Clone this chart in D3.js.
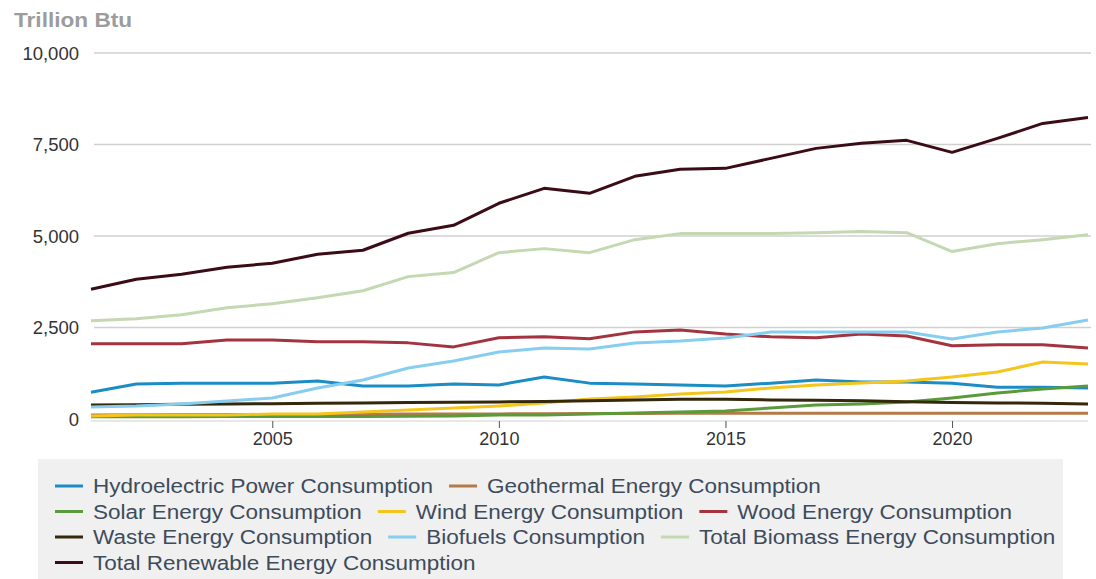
<!DOCTYPE html>
<html>
<head>
<meta charset="utf-8">
<script src="https://cdn.jsdelivr.net/npm/d3@7"></script>
<style>
  body { margin: 0; background: #fff; }
  svg text { font-family: "Liberation Sans", Arial, Helvetica, sans-serif; }
</style>
</head>
<body>
<svg id="chart" width="1096" height="579"></svg>
<script>
// Renewable energy consumption by source, trillion Btu
const years = [2001, 2002, 2003, 2004, 2005, 2006, 2007, 2008, 2009, 2010, 2011, 2012,
               2013, 2014, 2015, 2016, 2017, 2018, 2019, 2020, 2021, 2022, 2023];

const hydroelectric = [730, 955, 980, 980, 980, 1040, 900, 900, 955, 930, 1150, 980,
                       955, 930, 900, 980, 1065, 1010, 1010, 980, 870, 870, 845];
const geothermal    = [110, 115, 120, 120, 125, 125, 130, 135, 140, 140, 145, 150,
                       150, 155, 155, 160, 160, 160, 160, 160, 160, 160, 160];
const solar         = [60, 60, 60, 65, 65, 65, 70, 75, 80, 110, 110, 137,
                       164, 191, 219, 300, 383, 410, 464, 574, 710, 820, 902];
const wind          = [82, 109, 109, 109, 137, 137, 191, 246, 300, 355, 437, 546,
                       601, 683, 738, 847, 929, 984, 1038, 1148, 1284, 1557, 1503];
const wood          = [2055, 2055, 2055, 2160, 2160, 2110, 2110, 2080, 1970, 2220, 2245, 2190,
                       2380, 2430, 2320, 2245, 2220, 2320, 2270, 2000, 2030, 2030, 1940];
const waste         = [380, 390, 400, 410, 420, 430, 440, 450, 460, 465, 480, 500,
                       520, 540, 540, 520, 510, 500, 470, 450, 440, 430, 410];
const biofuels      = [328, 355, 410, 492, 574, 847, 1066, 1393, 1585, 1830, 1940, 1913,
                       2077, 2131, 2213, 2377, 2377, 2377, 2377, 2186, 2377, 2486, 2705];
const totalBiomass  = [2685, 2740, 2850, 3040, 3150, 3315, 3505, 3890, 4000, 4545, 4655, 4545,
                       4900, 5065, 5065, 5065, 5090, 5120, 5090, 4575, 4790, 4900, 5035];
const totalRenewable = [3547, 3820, 3956, 4147, 4256, 4502, 4611, 5075, 5293, 5894, 6303, 6166,
                        6630, 6821, 6848, 7121, 7394, 7531, 7613, 7285, 7667, 8076, 8240];

const yTicks = [0, 2500, 5000, 7500, 10000];
const xTicks = [2005, 2010, 2015, 2020];

const seriesNames = [
  "Hydroelectric Power Consumption", "Geothermal Energy Consumption",
  "Solar Energy Consumption", "Wind Energy Consumption", "Wood Energy Consumption",
  "Waste Energy Consumption", "Biofuels Consumption", "Total Biomass Energy Consumption",
  "Total Renewable Energy Consumption"
];
const seriesValues = [hydroelectric, geothermal, solar, wind, wood, waste, biofuels,
                      totalBiomass, totalRenewable];
const seriesColors = ["#1b8dc4", "#b57a48", "#5b9a3a", "#f3c51d", "#a3343f",
                      "#33270c", "#86cdf0", "#c4d8b1", "#3b0c16"];

const series = seriesNames.map((name, i) => ({
  name, color: seriesColors[i],
  values: years.map((y, j) => ({ year: y, value: seriesValues[i][j] }))
}));

const svg = d3.select("#chart");

const x = d3.scaleLinear().domain([2001, 2023]).range([91, 1088]);
const y = d3.scaleLinear().domain([0, 10000]).range([419, 53]);

// Axis title
svg.append("text")
  .attr("transform", "translate(14,27) scale(1.16,1)")
  .attr("font-size", 19.5).attr("font-weight", "bold")
  .attr("fill", "#9c9c9c")
  .text("Trillion Btu");

// Horizontal grid lines
svg.append("g")
  .selectAll("line")
  .data(yTicks.filter(d => d > 0))
  .join("line")
  .attr("x1", 94).attr("x2", 1091)
  .attr("y1", d => y(d)).attr("y2", d => y(d))
  .attr("stroke", "#d0d0d0").attr("stroke-width", 1.5);

// Y axis labels
const yAxis = d3.axisLeft(y).tickValues(yTicks).tickFormat(d3.format(",")).tickSize(0).tickPadding(0);
svg.append("g")
  .attr("transform", "translate(79,0)")
  .call(yAxis)
  .call(g => g.select(".domain").remove())
  .call(g => g.selectAll("text")
    .attr("font-size", 18.5).attr("fill", "#333")
    .attr("font-family", "Liberation Sans, Arial, sans-serif")
    .attr("dy", "0.35em"));

// X axis
const xAxis = d3.axisBottom(x).tickValues(xTicks).tickFormat(d3.format("d")).tickSize(7).tickPadding(4);
svg.append("g")
  .attr("transform", "translate(0,421)")
  .call(xAxis)
  .call(g => g.select(".domain").attr("stroke", "#d0d0d0").attr("d", `M${x(2001)},0H${x(2023)}`))
  .call(g => g.selectAll(".tick line").attr("stroke", "#555"))
  .call(g => g.selectAll("text")
    .attr("font-size", 18).attr("fill", "#333")
    .attr("font-family", "Liberation Sans, Arial, sans-serif"));

// Lines
const line = d3.line().x(d => x(d.year)).y(d => y(d.value));
svg.append("g")
  .selectAll("path")
  .data(series)
  .join("path")
  .attr("d", d => line(d.values))
  .attr("fill", "none")
  .attr("stroke", d => d.color)
  .attr("stroke-width", 3)
  .attr("stroke-linejoin", "round");

// Legend box
svg.append("rect")
  .attr("x", 38).attr("y", 459).attr("width", 1025).attr("height", 125)
  .attr("fill", "#f0f0f0");

const legend = svg.append("g");
const rowY = [486, 511.5, 537, 562.5];
const legendLeft = 55, legendRight = 1060;
const textScale = 1.072;
let cx = legendLeft, row = 0;
series.forEach(s => {
  const item = legend.append("g");
  item.append("line")
    .attr("x1", 0).attr("x2", 28).attr("y1", 0).attr("y2", 0)
    .attr("stroke", s.color).attr("stroke-width", 3);
  const t = item.append("text")
    .attr("transform", `translate(38,0) scale(${textScale},1)`)
    .attr("dy", "0.35em")
    .attr("font-size", 21).attr("fill", "#3d4b5c")
    .text(s.name);
  const w = 38 + t.node().getComputedTextLength() * textScale;
  if (cx + w > legendRight && cx > legendLeft) { row += 1; cx = legendLeft; }
  item.attr("transform", `translate(${cx},${rowY[row]})`);
  cx += w + 16;
});
</script>
</body>
</html>
